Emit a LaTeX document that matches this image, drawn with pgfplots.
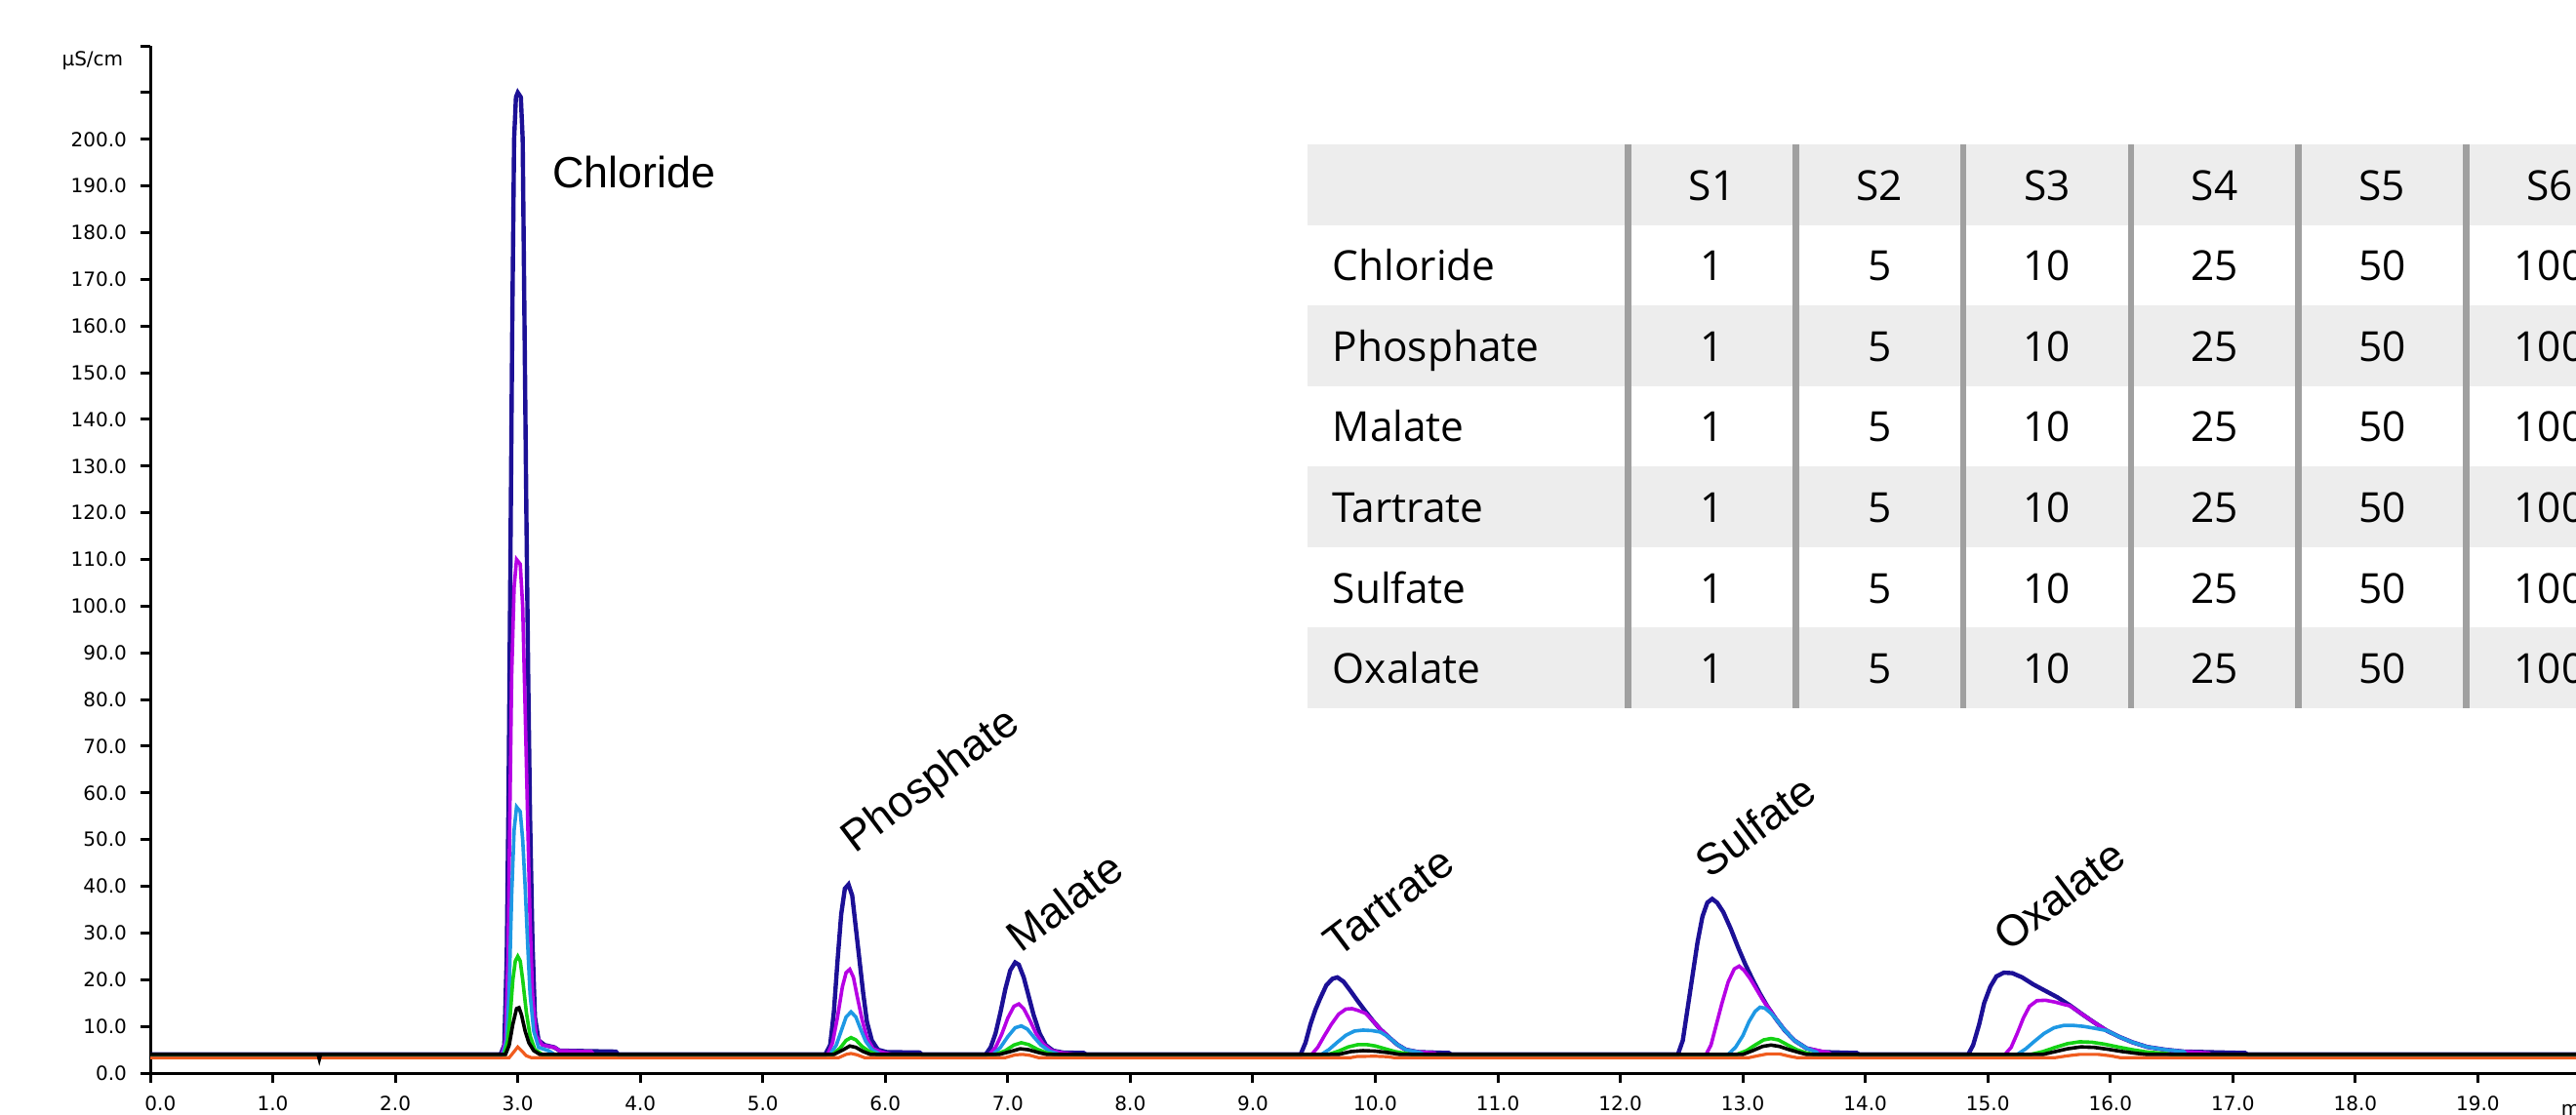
\documentclass[border=0pt]{standalone}
\usepackage{fontspec}
\setmainfont{Liberation Sans}
\newfontfamily\tickfont{DejaVu Sans}
\newfontfamily\tblfont{Open Sans}
\usepackage{pgfplots}
\pgfplotsset{compat=1.18}
\definecolor{cnavy}{RGB}{28,16,150}
\definecolor{cmag}{RGB}{182,0,228}
\definecolor{clblue}{RGB}{30,152,228}
\definecolor{cgreen}{RGB}{20,210,20}
\definecolor{corange}{RGB}{240,92,30}
\definecolor{tblgray}{RGB}{237,237,237}
\definecolor{sepgray}{RGB}{160,160,160}
\newcommand{\tickf}{\tickfont\fontsize{5}{5.7}\selectfont}
\newcommand{\labf}{\fontsize{11.2}{13}\selectfont}
\newcommand{\tblf}{\tblfont\fontsize{10.6}{12}\selectfont}
\begin{document}
\begin{tikzpicture}
\begin{axis}[
  at={(38.5pt,-275pt)}, anchor=south west,
  scale only axis, width=624.6pt, height=263.25pt,
  xmin=0, xmax=19.9, ymin=0, ymax=220,
  axis x line=bottom, axis y line=left,
  axis line style={-, line width=0.75pt, black},
  tick align=outside,
  major tick length=2.5pt,
  tick style={black, line width=0.75pt},
  xtick={1,2,...,19},
  extra x ticks={0},
  extra x tick style={xticklabel style={xshift=2.6pt}},
  ytick={0,10,...,200},
  extra y ticks={210,220},
  extra y tick labels={,},
  tick label style={font=\tickf, text=black},
  /pgf/number format/assume math mode=true,
  /pgf/number format/fixed,
  /pgf/number format/fixed zerofill,
  /pgf/number format/precision=1,
]
% S1 (1 mg/L)
\addplot[corange, line width=0.8pt] coordinates {
(0,3.3)
(2.93,3.3)(2.97,4.6)(3.00,5.6)(3.03,4.8)(3.07,3.7)(3.11,3.3)
(5.62,3.3)(5.68,4.0)(5.72,4.2)(5.77,3.9)(5.83,3.3)
(6.98,3.3)(7.06,3.9)(7.12,4.0)(7.18,3.8)(7.25,3.3)
(9.80,3.3)(9.85,3.55)(10.00,3.6)(10.10,3.5)(10.15,3.3)
(13.05,3.3)(13.12,3.7)(13.20,4.1)(13.30,4.1)(13.38,3.6)(13.44,3.3)
(15.55,3.3)(15.65,3.7)(15.75,4.0)(15.90,4.0)(16.00,3.7)(16.08,3.3)
(19.9,3.3)};
% S6 (100 mg/L)
\addplot[cnavy, line width=1.1pt] coordinates {
(0,4)
(2.86,4)(2.89,6)(2.91,25)(2.925,60)(2.94,110)(2.955,160)(2.97,200)(2.985,209)(3.00,210)(3.025,209)(3.04,200)(3.055,160)(3.07,120)(3.085,85)(3.10,55)(3.12,28)(3.14,12)(3.17,7)(3.22,6)(3.30,5.5)(3.34,4.8)(3.80,4.6)(3.82,4)
(5.51,4)(5.55,6)(5.58,13)(5.61,24)(5.64,34)(5.67,39.5)(5.70,40.4)(5.73,38)(5.76,31)(5.79,24)(5.82,17)(5.85,11)(5.89,7)(5.94,5)(6.01,4.5)(6.28,4.4)(6.30,4)
(6.82,4)(6.86,5.5)(6.90,8.5)(6.94,13)(6.98,18)(7.02,22)(7.06,23.7)(7.09,23.2)(7.13,20.5)(7.17,16.5)(7.21,12.5)(7.26,8.5)(7.31,6)(7.37,4.8)(7.45,4.4)(7.62,4.3)(7.64,4)
(9.39,4)(9.43,6.5)(9.47,10.4)(9.51,13.5)(9.55,16)(9.60,18.8)(9.65,20.2)(9.69,20.5)(9.74,19.6)(9.80,17.5)(9.86,15.3)(9.92,13.2)(9.98,11.2)(10.04,9.4)(10.11,7.7)(10.18,6.1)(10.25,5)(10.35,4.5)(10.60,4.3)(10.62,4)
(12.47,4)(12.51,7)(12.55,14)(12.59,21)(12.63,28)(12.67,33.5)(12.71,36.5)(12.75,37.3)(12.79,36.5)(12.84,34.5)(12.90,31)(12.96,27)(13.02,23.3)(13.08,20)(13.14,17)(13.20,14.3)(13.27,11.6)(13.34,9.2)(13.42,7.0)(13.52,5.3)(13.65,4.5)(13.93,4.3)(13.95,4)
(14.84,4)(14.88,6)(14.93,10.5)(14.97,15)(15.02,18.5)(15.07,20.7)(15.13,21.5)(15.20,21.4)(15.28,20.5)(15.37,19)(15.47,17.6)(15.57,16.2)(15.67,14.5)(15.77,12.6)(15.87,10.8)(15.97,9.1)(16.07,7.8)(16.18,6.6)(16.30,5.6)(16.45,5)(16.60,4.6)(17.10,4.3)(17.12,4)
(19.9,4)};
% S5 (50 mg/L)
\addplot[cmag, line width=0.9pt] coordinates {
(0,4)
(2.87,4)(2.90,7)(2.92,25)(2.935,55)(2.95,85)(2.97,104)(2.99,110)(3.02,109)(3.04,100)(3.06,78)(3.08,55)(3.10,33)(3.12,17)(3.15,8)(3.20,6)(3.30,5.5)(3.34,4.8)(3.60,4.6)(3.62,4)
(5.53,4)(5.57,6.5)(5.61,12)(5.65,18.5)(5.68,21.5)(5.71,22.2)(5.74,20.5)(5.77,16.5)(5.81,11.5)(5.85,7.5)(5.90,5.2)(5.97,4.5)(6.05,4)
(6.85,4)(6.90,5.5)(6.95,8.3)(7.00,11.8)(7.05,14.3)(7.09,14.8)(7.13,13.8)(7.18,11.3)(7.23,8.5)(7.29,6.2)(7.36,4.8)(7.45,4.3)(7.55,4)
(9.48,4)(9.53,5.5)(9.58,7.8)(9.64,10.4)(9.70,12.6)(9.76,13.7)(9.81,13.8)(9.86,13.4)(9.92,12.8)(9.98,11.2)(10.04,9.4)(10.11,7.7)(10.18,6.1)(10.25,5)(10.35,4.5)(10.48,4.3)(10.50,4)
(12.70,4)(12.74,6)(12.78,10)(12.83,15)(12.88,19.5)(12.93,22.3)(12.97,22.9)(13.01,22)(13.06,20.2)(13.11,18)(13.16,15.8)(13.20,14.3)(13.27,11.6)(13.34,9.2)(13.42,7.0)(13.52,5.3)(13.70,4.4)(13.72,4)
(15.14,4)(15.19,5.5)(15.24,8.5)(15.29,11.8)(15.34,14.3)(15.40,15.5)(15.47,15.6)(15.55,15.2)(15.62,14.7)(15.67,14.4)(15.77,12.6)(15.87,10.8)(15.97,9.1)(16.07,7.8)(16.18,6.6)(16.30,5.6)(16.45,5)(16.60,4.6)(16.80,4.3)(16.82,4)
(19.9,4)};
% S4 (25 mg/L)
\addplot[clblue, line width=0.9pt] coordinates {
(0,4)
(2.88,4)(2.91,7)(2.93,18)(2.95,38)(2.97,52)(2.99,57)(3.02,56)(3.04,50)(3.06,40)(3.08,28)(3.10,17)(3.13,9)(3.17,5.5)(3.25,4.8)(3.30,4)
(5.55,4)(5.60,6)(5.64,9)(5.68,12)(5.72,13.1)(5.76,12)(5.80,9.3)(5.84,6.8)(5.89,5)(5.96,4)
(6.88,4)(6.94,5.5)(7.00,7.8)(7.06,9.7)(7.11,10.1)(7.16,9.4)(7.21,7.8)(7.27,6)(7.34,4.7)(7.42,4)
(9.56,4)(9.62,5)(9.69,6.6)(9.76,8.1)(9.83,9)(9.90,9.2)(9.97,9.1)(10.04,8.8)(10.11,7.7)(10.18,6.1)(10.25,5)(10.35,4.5)(10.40,4)
(12.88,4)(12.94,5.5)(13.00,8)(13.05,11)(13.10,13.2)(13.14,14.1)(13.18,13.9)(13.23,12.8)(13.27,11.6)(13.34,9.2)(13.42,7.0)(13.52,5.3)(13.60,4.5)(13.62,4)
(15.24,4)(15.31,5.2)(15.38,6.8)(15.46,8.5)(15.54,9.7)(15.62,10.2)(15.70,10.2)(15.78,10.0)(15.87,9.6)(15.97,9.1)(16.07,7.8)(16.18,6.6)(16.30,5.6)(16.45,5)(16.60,4.6)(16.62,4)
(19.9,4)};
% S3 (10 mg/L)
\addplot[cgreen, line width=0.9pt] coordinates {
(0,4)
(2.89,4)(2.92,7)(2.94,13)(2.96,20)(2.98,24)(3.00,25)(3.02,24)(3.04,20)(3.07,13)(3.10,8)(3.14,5)(3.20,4)
(5.57,4)(5.63,5.3)(5.68,7)(5.72,7.6)(5.76,7.1)(5.81,5.7)(5.87,4.6)(5.93,4)
(6.90,4)(6.98,4.8)(7.05,6)(7.11,6.5)(7.17,6.1)(7.24,5.1)(7.32,4.3)(7.38,4)
(9.62,4)(9.70,4.7)(9.78,5.6)(9.86,6.1)(9.93,6.1)(10.00,5.8)(10.08,5.2)(10.16,4.6)(10.25,4.2)(10.30,4)
(12.95,4)(13.03,4.8)(13.10,6)(13.17,7.1)(13.23,7.4)(13.29,7.1)(13.36,6.1)(13.44,5)(13.52,4.3)(13.58,4)
(15.35,4)(15.45,4.6)(15.55,5.5)(15.65,6.3)(15.75,6.7)(15.85,6.6)(15.95,6.2)(16.06,5.6)(16.18,5)(16.30,4.5)(16.45,4.2)(16.50,4)
(19.9,4)};
% S2 (5 mg/L)
\addplot[black, line width=0.9pt] coordinates {
(0,4)(1.37,4)(1.38,3.0)(1.39,4)
(2.90,4)(2.93,6)(2.96,10.5)(2.99,13.8)(3.01,14)(3.03,12.5)(3.06,9)(3.09,6.5)(3.13,4.8)(3.18,4)
(5.58,4)(5.65,4.9)(5.71,5.8)(5.76,5.5)(5.82,4.6)(5.88,4)
(6.93,4)(7.02,4.6)(7.10,5.2)(7.17,5.0)(7.25,4.4)(7.32,4)
(9.70,4)(9.80,4.6)(9.90,4.8)(10.00,4.7)(10.10,4.4)(10.20,4)
(13.00,4)(13.08,4.8)(13.16,5.7)(13.23,6.0)(13.30,5.7)(13.38,5)(13.46,4.4)(13.52,4)
(15.45,4)(15.55,4.6)(15.65,5.2)(15.76,5.6)(15.87,5.5)(15.98,5.1)(16.10,4.6)(16.22,4.2)(16.30,4)
(19.9,4)};
% peak names
\node[font=\labf, anchor=base west, inner sep=0] at (axis cs:3.28,189.5) {Chloride};
\node[font=\labf, rotate=37, inner sep=0] at (axis cs:6.38,62.4) {Phosphate};
\node[font=\labf, rotate=37, inner sep=0] at (axis cs:7.46,36.7) {Malate};
\node[font=\labf, rotate=37, inner sep=0] at (axis cs:10.11,36.7) {Tartrate};
\node[font=\labf, rotate=37, inner sep=0] at (axis cs:13.10,53.0) {Sulfate};
\node[font=\labf, rotate=37, inner sep=0] at (axis cs:15.58,38.1) {Oxalate};
\end{axis}
\begin{scope}[x=0.25pt,y=-0.25pt]
\node[font=\tickf, anchor=east, inner sep=0] at (127,62) {µS/cm};
\node[font=\tickf, anchor=west, inner sep=0] at (2624,1136) {min};
% concentration table
\fill[tblgray] (1340,148.2) rectangle (2700,230.7);
\fill[tblgray] (1340,313.2) rectangle (2700,395.7);
\fill[tblgray] (1340,478.2) rectangle (2700,560.7);
\fill[tblgray] (1340,643.2) rectangle (2700,725.7);
\foreach \xx in {1668.6,1840.3,2012.0,2183.8,2355.5,2527.3}
  \draw[sepgray, line width=1.6pt] (\xx,148.2) -- (\xx,725.7);
\foreach \xx/\hh in {1754.5/S1,1926.2/S2,2097.9/S3,2269.6/S4,2441.3/S5,2613.0/S6}
  \node[font=\tblf, anchor=base, inner sep=0] at (\xx,205.5) {\hh};
\foreach \yy/\nm in {288/Chloride,370.5/Phosphate,453/Malate,535.5/Tartrate,618/Sulfate,700.5/Oxalate}{
  \node[font=\tblf, anchor=base west, inner sep=0] at (1365,\yy) {\nm};
  \foreach \xx/\vv in {1754.5/1,1926.2/5,2097.9/10,2269.6/25,2441.3/50,2613.0/100}
    \node[font=\tblf, anchor=base, inner sep=0] at (\xx,\yy) {\vv};
}
\end{scope}
\pgfresetboundingbox
\path[use as bounding box] (0pt,0pt) rectangle (660pt,-285.75pt);
\end{tikzpicture}
\end{document}
